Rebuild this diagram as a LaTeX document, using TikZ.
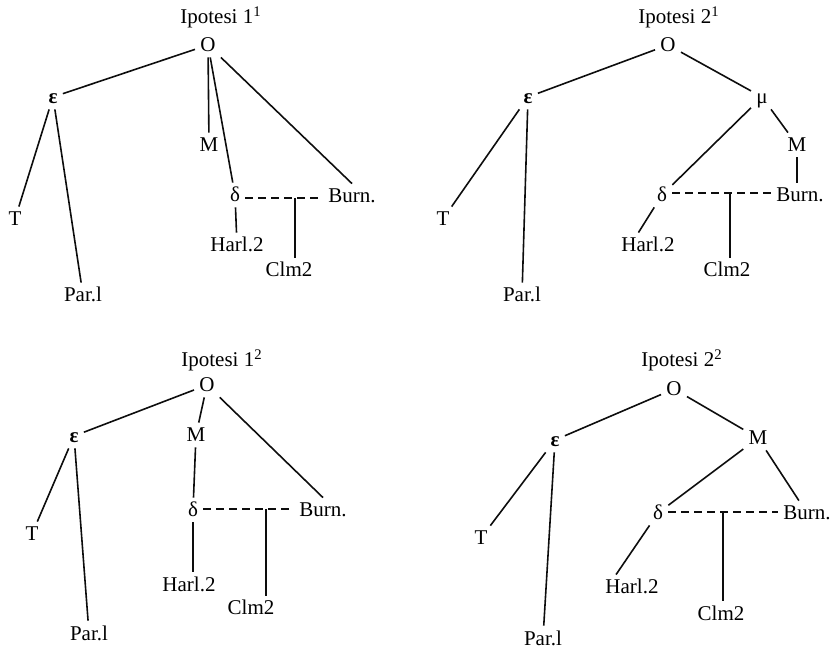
\documentclass[tikz,border=0pt]{standalone}
\usepackage{fontspec}
\setmainfont{Liberation Serif}
\usepackage{tikz}
\usetikzlibrary{calc}
\definecolor{trait}{gray}{0.05}

\tikzset{
  ms/.style={inner sep=2.5pt, text height=7pt, text depth=0pt,
    font=\fontsize{10.5}{12}\selectfont},
  rel/.style={draw=trait, line width=0.8pt},
  lac/.style={draw=trait, line width=0.8pt, dash pattern=on 4pt off 2.5pt}
}

\begin{document}
\begin{tikzpicture}[x=0.5pt, y=-0.5pt]
  \useasboundingbox (0,0) rectangle (835,651);

  % Ipotesi 1, prima.
  \node[ms] (t1) at (221,17) {Ipotesi 1\textsuperscript{1}};
  \node[ms] (o1) at (208,45) {O};
  \node[ms] (e1) at (53,97) {\textbf{ε}};
  \node[ms] (m1) at (209,145) {M};
  \node[ms] (d1) at (235,195) {δ};
  \node[ms] (b1) at (352,196) {Burn.};
  \node[ms] (tt1) at (15,219) {T};
  \node[ms] (h1) at (237,245) {Harl.2};
  \node[ms] (c1) at (289,270) {Clm2};
  \node[ms] (p1) at (83,295) {Par.l};
  \coordinate (j1) at (295,198);
  \draw[rel] (o1) -- (e1);
  \draw[rel] (o1) -- (m1);
  \draw[rel] (o1) -- (d1);
  \draw[rel] (o1) -- (b1.north);
  \draw[rel] (e1) -- (tt1);
  \draw[rel] (e1) -- (p1);
  \draw[rel] (d1) -- (h1);
  \draw[lac] (d1.east |- j1) -- (b1.west |- j1);
  \draw[rel] (j1) -- (j1 |- c1.north);

  % Ipotesi 2, prima.
  \node[ms] (t2) at (679,17) {Ipotesi 2\textsuperscript{1}};
  \node[ms] (o2) at (668,45) {O};
  \node[ms] (e2) at (528,97) {\textbf{ε}};
  \node[ms] (mu2) at (762,97) {μ};
  \node[ms] (m2) at (797,145) {M};
  \node[ms] (d2) at (662,195) {δ};
  \node[ms] (b2) at (800,195) {Burn.};
  \node[ms] (tt2) at (443,219) {T};
  \node[ms] (h2) at (648,245) {Harl.2};
  \node[ms] (c2) at (727,270) {Clm2};
  \node[ms] (p2) at (522,295) {Par.l};
  \coordinate (j2) at (730,193);
  \draw[rel] (o2) -- (e2);
  \draw[rel] (o2) -- (mu2);
  \draw[rel] (e2) -- (tt2);
  \draw[rel] (e2) -- (p2);
  \draw[rel] (mu2) -- (d2);
  \draw[rel] (mu2) -- (m2);
  \draw[rel] (m2.south) -- (m2.south |- b2.north);
  \draw[rel] (d2) -- ($(h2.north)!0.3!(h2.north west)$);
  \draw[lac] (d2.east |- j2) -- (b2.west |- j2);
  \draw[rel] (j2) -- (j2 |- c2.north);

  % Ipotesi 1, seconda.
  \node[ms] (t3) at (222,360) {Ipotesi 1\textsuperscript{2}};
  \node[ms] (o3) at (207,385) {O};
  \node[ms] (e3) at (74,436) {\textbf{ε}};
  \node[ms] (m3) at (196,435) {M};
  \node[ms] (d3) at (193,510) {δ};
  \node[ms] (b3) at (323,510) {Burn.};
  \node[ms] (tt3) at (32,534) {T};
  \node[ms] (h3) at (189,584) {Harl.2};
  \node[ms] (c3) at (251,608) {Clm2};
  \node[ms] (p3) at (89,633) {Par.l};
  \coordinate (j3) at (266,509);
  \draw[rel] (o3) -- (e3);
  \draw[rel] (o3) -- (m3);
  \draw[rel] (o3) -- (b3.north);
  \draw[rel] (m3) -- (d3);
  \draw[rel] (e3) -- (tt3);
  \draw[rel] (e3) -- (p3);
  \draw[rel] (d3.south) -- (d3.south |- h3.north);
  \draw[lac] (d3.east |- j3) -- (b3.west |- j3);
  \draw[rel] (j3) -- (j3 |- c3.north);

  % Ipotesi 2, seconda.
  \node[ms] (t4) at (682,360) {Ipotesi 2\textsuperscript{2}};
  \node[ms] (o4) at (674,389) {O};
  \node[ms] (e4) at (555,440) {\textbf{ε}};
  \node[ms] (m4) at (758,438) {M};
  \node[ms] (d4) at (658,513) {δ};
  \node[ms] (b4) at (807,513) {Burn.};
  \node[ms] (tt4) at (481,538) {T};
  \node[ms] (h4) at (632,587) {Harl.2};
  \node[ms] (c4) at (721,613) {Clm2};
  \node[ms] (p4) at (543,638) {Par.l};
  \coordinate (j4) at (723,512);
  \draw[rel] (o4) -- (e4);
  \draw[rel] (o4) -- (m4);
  \draw[rel] (e4) -- (tt4);
  \draw[rel] (e4) -- (p4);
  \draw[rel] (m4) -- (d4);
  \draw[rel] (m4) -- (b4);
  \draw[rel] (d4) -- ($(h4.north)!0.5!(h4.north west)$);
  \draw[lac] (d4.east |- j4) -- (b4.west |- j4);
  \draw[rel] (j4) -- (j4 |- c4.north);
\end{tikzpicture}
\end{document}
